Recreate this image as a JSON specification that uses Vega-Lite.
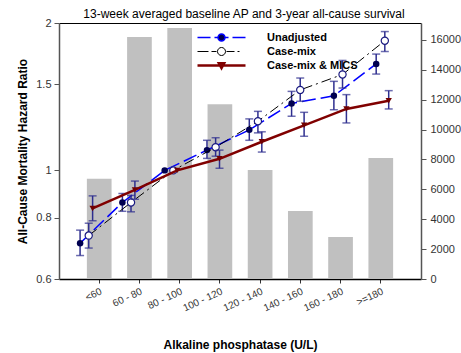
{
  "$schema": "https://vega.github.io/schema/vega-lite/v6.json",
  "width": 362,
  "height": 256,
  "autosize": "none",
  "padding": {"left": 59, "top": 23, "right": 40, "bottom": 74},
  "title": {"text": "13-week averaged baseline AP and 3-year all-cause survival", "fontSize": 12, "fontWeight": "normal", "color": "#000000", "anchor": "middle", "offset": -4, "dx": 4},
  "config": {
    "font": "Liberation Sans",
    "view": {"stroke": null},
    "axis": {"grid": false, "labelColor": "#333333", "labelFontSize": 11, "tickColor": "#555555", "domainColor": "#555555", "titleColor": "#000000", "titleFontWeight": "bold", "titleFontSize": 12}
  },
  "datasets": {
    "bars": [
      {"cat": "<60", "n": 6700},
      {"cat": "60 - 80", "n": 16200},
      {"cat": "80 - 100", "n": 16800},
      {"cat": "100 - 120", "n": 11700},
      {"cat": "120 - 140", "n": 7300},
      {"cat": "140 - 160", "n": 4550},
      {"cat": "160 - 180", "n": 2810},
      {"cat": ">=180", "n": 8100}
    ],
    "hr": [
      {"series": "Unadjusted", "cat": "<60", "hr": 0.71, "lo": 0.67, "hi": 0.755},
      {"series": "Unadjusted", "cat": "60 - 80", "hr": 0.86, "lo": 0.825, "hi": 0.897},
      {"series": "Unadjusted", "cat": "80 - 100", "hr": 1.0, "lo": null, "hi": null},
      {"series": "Unadjusted", "cat": "100 - 120", "hr": 1.10, "lo": 1.058, "hi": 1.152},
      {"series": "Unadjusted", "cat": "120 - 140", "hr": 1.21, "lo": 1.152, "hi": 1.274},
      {"series": "Unadjusted", "cat": "140 - 160", "hr": 1.37, "lo": 1.29, "hi": 1.45},
      {"series": "Unadjusted", "cat": "160 - 180", "hr": 1.42, "lo": 1.33, "hi": 1.52},
      {"series": "Unadjusted", "cat": ">=180", "hr": 1.65, "lo": 1.573, "hi": 1.728},
      {"series": "Case-mix", "cat": "<60", "hr": 0.736, "lo": 0.694, "hi": 0.78},
      {"series": "Case-mix", "cat": "60 - 80", "hr": 0.86, "lo": 0.823, "hi": 0.889},
      {"series": "Case-mix", "cat": "80 - 100", "hr": 1.0, "lo": null, "hi": null},
      {"series": "Case-mix", "cat": "100 - 120", "hr": 1.115, "lo": 1.069, "hi": 1.166},
      {"series": "Case-mix", "cat": "120 - 140", "hr": 1.26, "lo": 1.193, "hi": 1.32},
      {"series": "Case-mix", "cat": "140 - 160", "hr": 1.46, "lo": 1.384, "hi": 1.544},
      {"series": "Case-mix", "cat": "160 - 180", "hr": 1.57, "lo": 1.473, "hi": 1.677},
      {"series": "Case-mix", "cat": ">=180", "hr": 1.84, "lo": 1.749, "hi": 1.921},
      {"series": "Case-mix & MICS", "cat": "<60", "hr": 0.836, "lo": 0.789, "hi": 0.887},
      {"series": "Case-mix & MICS", "cat": "60 - 80", "hr": 0.912, "lo": 0.873, "hi": 0.951},
      {"series": "Case-mix & MICS", "cat": "80 - 100", "hr": 1.0, "lo": null, "hi": null},
      {"series": "Case-mix & MICS", "cat": "100 - 120", "hr": 1.056, "lo": 1.01, "hi": 1.10},
      {"series": "Case-mix & MICS", "cat": "120 - 140", "hr": 1.144, "lo": 1.09, "hi": 1.199},
      {"series": "Case-mix & MICS", "cat": "140 - 160", "hr": 1.236, "lo": 1.174, "hi": 1.314},
      {"series": "Case-mix & MICS", "cat": "160 - 180", "hr": 1.335, "lo": 1.25, "hi": 1.428},
      {"series": "Case-mix & MICS", "cat": ">=180", "hr": 1.388, "lo": 1.335, "hi": 1.455}
    ]
  },
  "layer": [
    {
      "data": {"name": "bars"},
      "mark": {"type": "bar", "color": "#c0c0c0"},
      "encoding": {
        "x": {"field": "cat", "type": "ordinal",
          "scale": {"type": "band", "domain": ["<60", "60 - 80", "80 - 100", "100 - 120", "120 - 140", "140 - 160", "160 - 180", ">=180"], "paddingInner": 0.386, "paddingOuter": 0.693},
          "axis": {"orient": "bottom", "title": "Alkaline phosphatase (U/L)", "labelAngle": -25, "labelAlign": "right", "labelBaseline": "top", "labelFontSize": 10, "labelPadding": 3, "tickSize": 4, "domainColor": "#000000", "domainWidth": 1.5, "tickColor": "#333333", "titleBaseline": "alphabetic", "titleY": 69}},
        "y": {"field": "n", "type": "quantitative",
          "scale": {"domain": [0, 17130], "nice": false, "zero": true},
          "axis": {"orient": "right", "title": null, "values": [0, 2000, 4000, 6000, 8000, 10000, 12000, 14000, 16000], "format": "d", "tickSize": 5, "labelPadding": 4, "domainWidth": 1.5}}
      }
    },
    {
      "mark": {"type": "rule", "color": "#000000", "strokeDash": [1, 2], "strokeWidth": 1.3},
      "encoding": {
        "y": {"datum": 1, "type": "quantitative", "scale": {"type": "log", "domain": [0.6, 2], "nice": false}, "axis": null}
      }
    },
    {
      "data": {"name": "hr"},
      "transform": [{"filter": "datum.series === 'Unadjusted'"}],
      "encoding": {
        "x": {"field": "cat", "type": "ordinal",
          "scale": {"type": "point", "domain": ["<60", "60 - 80", "80 - 100", "100 - 120", "120 - 140", "140 - 160", "160 - 180", ">=180"], "padding": 0.779, "align": 0.32},
          "axis": {"orient": "top", "labels": false, "ticks": false, "title": null, "domainColor": "#000000", "domainWidth": 1.2}},
        "y": {"field": "hr", "type": "quantitative", "scale": {"type": "log", "domain": [0.6, 2], "nice": false},
          "axis": {"orient": "left", "title": "All-Cause Mortality Hazard Ratio", "values": [0.6, 0.8, 1, 1.5, 2], "format": "~g", "tickSize": 5, "labelPadding": 3, "titlePadding": 6, "domainWidth": 1.5}}
      },
      "layer": [
        {
          "mark": {"type": "line", "strokeWidth": 1.5, "strokeDash": [14, 5]},
          "encoding": {
            "color": {"field": "series", "type": "nominal",
              "scale": {"domain": ["Unadjusted", "Case-mix", "Case-mix & MICS"], "range": ["#0000ff", "#000000", "#800000"]},
              "legend": {
                "title": null, "orient": "none", "legendX": 157, "legendY": 9, "padding": 0,
                "labelFontSize": 11, "labelFontWeight": "bold", "labelColor": "#000000", "labelFont": "Liberation Sans",
                "symbolSize": 2304, "labelOffset": 40, "rowPadding": 0,
                "encode": {"symbols": {"update": {
                  "shape": {"signal": "datum.value === 'Unadjusted' ? 'M-1,0H-0.458M-0.292,0H-0.146M0.146,0H0.292M0.458,0H1M-0.146,0A0.146,0.146,0,1,0,0.146,0A0.146,0.146,0,1,0,-0.146,0Z' : datum.value === 'Case-mix' ? 'M-1,0H-0.542M-0.417,0H-0.208M0.208,0H0.542M0.667,0H0.75M-0.167,0A0.167,0.167,0,1,0,0.167,0A0.167,0.167,0,1,0,-0.167,0Z' : 'M-1,0H1M-0.11,-0.09L0.11,-0.09L0,0.11Z'"},
                  "fill": {"signal": "datum.value === 'Unadjusted' ? '#000050' : datum.value === 'Case-mix' ? '#ffffff' : '#800000'"},
                  "stroke": {"signal": "datum.value === 'Unadjusted' ? '#0000ff' : datum.value === 'Case-mix' ? '#000000' : '#800000'"},
                  "strokeWidth": {"signal": "datum.value === 'Unadjusted' ? 1.5 : datum.value === 'Case-mix' ? 1 : 2.5"},
                  "strokeDash": {"value": []},
                  "size": {"value": 2304},
                  "opacity": {"value": 1},
                  "fillOpacity": {"value": 1},
                  "strokeOpacity": {"value": 1}
                }}}
              }}
          }
        },
        {"mark": {"type": "rule", "color": "#2e2e8f", "strokeWidth": 1.5}, "encoding": {"y": {"field": "lo", "type": "quantitative"}, "y2": {"field": "hi"}}},
        {"mark": {"type": "tick", "color": "#2e2e8f", "size": 8, "thickness": 1.5}, "encoding": {"y": {"field": "lo", "type": "quantitative"}}},
        {"mark": {"type": "tick", "color": "#2e2e8f", "size": 8, "thickness": 1.5}, "encoding": {"y": {"field": "hi", "type": "quantitative"}}},
        {"mark": {"type": "point", "shape": "circle", "filled": true, "size": 42, "color": "#000050", "opacity": 1}}
      ]
    },
    {
      "data": {"name": "hr"},
      "transform": [{"filter": "datum.series === 'Case-mix'"}],
      "encoding": {
        "x": {"field": "cat", "type": "ordinal",
          "scale": {"type": "point", "domain": ["<60", "60 - 80", "80 - 100", "100 - 120", "120 - 140", "140 - 160", "160 - 180", ">=180"], "padding": 0.779, "align": 0.451},
          "axis": null},
        "y": {"field": "hr", "type": "quantitative", "scale": {"type": "log", "domain": [0.6, 2], "nice": false}, "axis": null}
      },
      "layer": [
        {
          "mark": {"type": "line", "strokeWidth": 1, "strokeDash": [10, 4, 2, 4]},
          "encoding": {"color": {"field": "series", "type": "nominal", "scale": {"domain": ["Unadjusted", "Case-mix", "Case-mix & MICS"], "range": ["#0000ff", "#000000", "#800000"]}}}
        },
        {"mark": {"type": "rule", "color": "#2e2e8f", "strokeWidth": 1.5}, "encoding": {"y": {"field": "lo", "type": "quantitative"}, "y2": {"field": "hi"}}},
        {"mark": {"type": "tick", "color": "#2e2e8f", "size": 8, "thickness": 1.5}, "encoding": {"y": {"field": "lo", "type": "quantitative"}}},
        {"mark": {"type": "tick", "color": "#2e2e8f", "size": 8, "thickness": 1.5}, "encoding": {"y": {"field": "hi", "type": "quantitative"}}},
        {"mark": {"type": "point", "shape": "circle", "filled": true, "size": 52, "fill": "#ffffff", "stroke": "#1a1a80", "strokeWidth": 1.2, "opacity": 1}}
      ]
    },
    {
      "data": {"name": "hr"},
      "transform": [{"filter": "datum.series === 'Case-mix & MICS'"}],
      "encoding": {
        "x": {"field": "cat", "type": "ordinal",
          "scale": {"type": "point", "domain": ["<60", "60 - 80", "80 - 100", "100 - 120", "120 - 140", "140 - 160", "160 - 180", ">=180"], "padding": 0.779, "align": 0.51},
          "axis": null},
        "y": {"field": "hr", "type": "quantitative", "scale": {"type": "log", "domain": [0.6, 2], "nice": false}, "axis": null}
      },
      "layer": [
        {
          "mark": {"type": "line", "strokeWidth": 2.5},
          "encoding": {"color": {"field": "series", "type": "nominal", "scale": {"domain": ["Unadjusted", "Case-mix", "Case-mix & MICS"], "range": ["#0000ff", "#000000", "#800000"]}}}
        },
        {"mark": {"type": "rule", "color": "#2e2e8f", "strokeWidth": 1.5}, "encoding": {"y": {"field": "lo", "type": "quantitative"}, "y2": {"field": "hi"}}},
        {"mark": {"type": "tick", "color": "#2e2e8f", "size": 8, "thickness": 1.5}, "encoding": {"y": {"field": "lo", "type": "quantitative"}}},
        {"mark": {"type": "tick", "color": "#2e2e8f", "size": 8, "thickness": 1.5}, "encoding": {"y": {"field": "hi", "type": "quantitative"}}},
        {"mark": {"type": "point", "shape": "triangle-down", "filled": true, "size": 40, "color": "#700000", "opacity": 1}}
      ]
    }
  ],
  "resolve": {"scale": {"x": "independent", "y": "independent"}}
}
